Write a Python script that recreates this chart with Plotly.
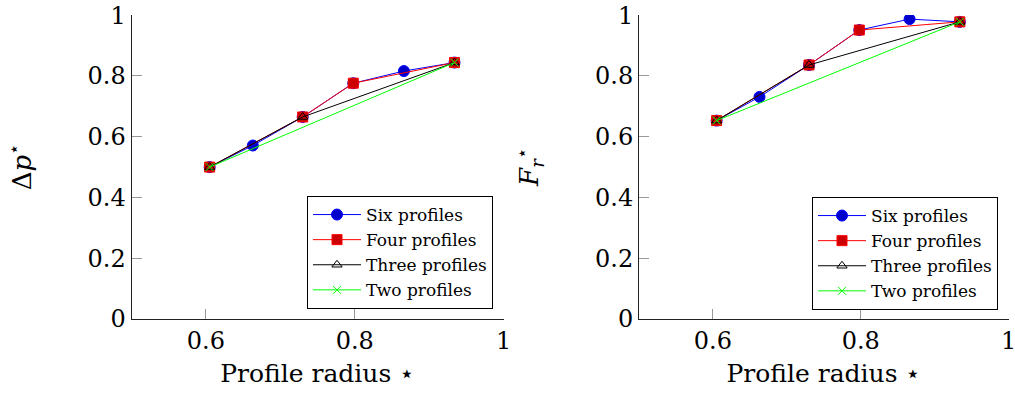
import plotly.graph_objects as go

# Profile radii (x positions)
x_six = [0.605, 0.663, 0.730, 0.798, 0.866, 0.934]
x_four = [0.605, 0.730, 0.798, 0.934]
x_three = [0.605, 0.730, 0.934]
x_two = [0.605, 0.934]

# Left panel: pressure drop
dp_six = [0.500, 0.571, 0.665, 0.776, 0.816, 0.844]
dp_four = [0.500, 0.665, 0.776, 0.844]
dp_three = [0.500, 0.665, 0.844]
dp_two = [0.500, 0.844]

# Right panel: radial force
fr_six = [0.653, 0.731, 0.836, 0.951, 0.987, 0.978]
fr_four = [0.653, 0.836, 0.951, 0.978]
fr_three = [0.653, 0.836, 0.978]
fr_two = [0.653, 0.978]

names = ["Six profiles", "Four profiles", "Three profiles", "Two profiles"]
x_tick_vals = [0.6, 0.8, 1.0]
x_tick_text = ["0.6", "0.8", "1"]
y_tick_vals = [0, 0.2, 0.4, 0.6, 0.8, 1.0]
y_tick_text = ["0", "0.2", "0.4", "0.6", "0.8", "1"]

FONT = "DejaVu Serif"

styles = [
    dict(line=dict(color="#0000ff", width=1),
         marker=dict(symbol="circle", size=11, color="#0000cc", line=dict(color="#0000ff", width=1))),
    dict(line=dict(color="#ff0000", width=1),
         marker=dict(symbol="square", size=10, color="#cc0000", line=dict(color="#ff0000", width=1))),
    dict(line=dict(color="#000000", width=1),
         marker=dict(symbol="triangle-up-open", size=9, color="#000000", line=dict(color="#000000", width=1))),
    dict(line=dict(color="#00ff00", width=1),
         marker=dict(symbol="x-thin-open", size=8, color="#00ff00", line=dict(color="#00ff00", width=1))),
]

fig = go.Figure()

left_sets = [(x_six, dp_six), (x_four, dp_four), (x_three, dp_three), (x_two, dp_two)]
right_sets = [(x_six, fr_six), (x_four, fr_four), (x_three, fr_three), (x_two, fr_two)]

for (xs, ys), nm, st in zip(left_sets, names, styles):
    fig.add_trace(go.Scatter(x=xs, y=ys, mode="lines+markers", name=nm,
                             xaxis="x", yaxis="y", legend="legend", **st))
for (xs, ys), nm, st in zip(right_sets, names, styles):
    fig.add_trace(go.Scatter(x=xs, y=ys, mode="lines+markers", name=nm,
                             xaxis="x2", yaxis="y2", legend="legend2", **st))

axis_common = dict(
    showgrid=False, zeroline=False, showline=True, linecolor="#222222", linewidth=1,
    ticks="inside", ticklen=10, tickwidth=1, tickcolor="#999999",
    tickfont=dict(family=FONT, size=24, color="#000000"),
    mirror=False, automargin=False, ticklabeloverflow="allow",
)

xt = dict(text="Profile radius ⋆", font=dict(family=FONT, size=25, color="#000000"), standoff=10)

legend_common = dict(
    xanchor="right", yanchor="bottom", bgcolor="white", bordercolor="#000000", borderwidth=1,
    font=dict(family=FONT, size=17, color="#000000"), tracegroupgap=0, itemwidth=48,
)

fig.update_layout(
    width=1015, height=399,
    margin=dict(l=0, r=0, t=15, b=80),
    paper_bgcolor="white", plot_bgcolor="white",
    font=dict(family=FONT, color="#000000"),
    xaxis=dict(domain=[131.5 / 1015, 504 / 1015], range=[0.5, 1.0005],
               tickvals=x_tick_vals, ticktext=x_tick_text, title=xt, anchor="y", **axis_common),
    yaxis=dict(domain=[0, 1], range=[0, 1.0005], tickvals=y_tick_vals, ticktext=y_tick_text,
               title=dict(text="Δ<i>p</i><sup>⋆</sup>", font=dict(family=FONT, size=26, color="#000000"), standoff=48),
               anchor="x", **axis_common),
    xaxis2=dict(domain=[639 / 1015, 1009 / 1015], range=[0.5, 1.0005],
                tickvals=x_tick_vals, ticktext=x_tick_text, title=xt, anchor="y2", **axis_common),
    yaxis2=dict(domain=[0, 1], range=[0, 1.0005], tickvals=y_tick_vals, ticktext=y_tick_text,
                title=dict(text="<i>F</i><sub><i>r</i></sub><sup>⋆</sup>", font=dict(family=FONT, size=26, color="#000000"), standoff=48),
                anchor="x2", **axis_common),
    legend=dict(x=493 / 1015, y=(319 - 309) / 304, **legend_common),
    legend2=dict(x=998 / 1015, y=(319 - 310) / 304, **legend_common),
)

fig.write_html("out.html", config={"displayModeBar": False},
               post_script="document.body.style.margin='0';")
